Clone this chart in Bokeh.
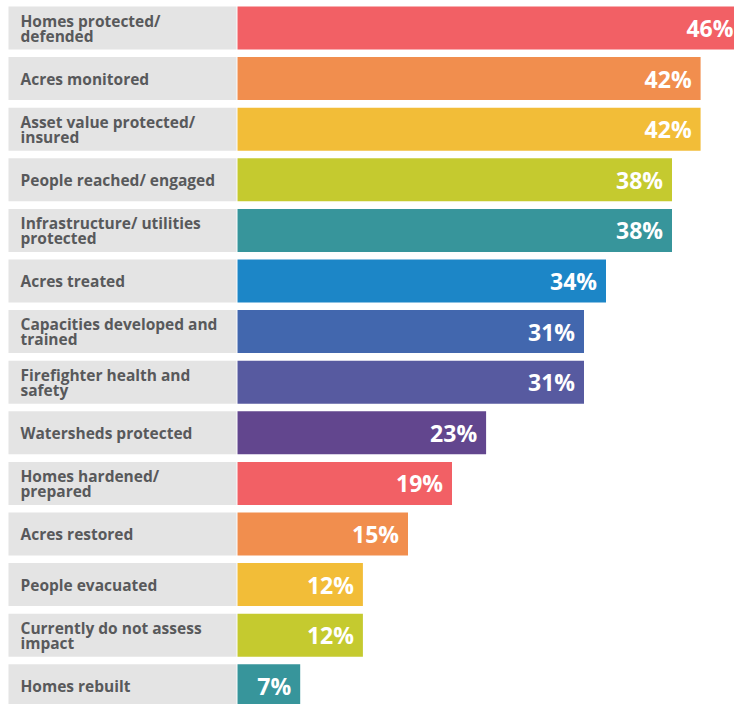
from bokeh.plotting import figure
from bokeh.models import ColumnDataSource, Range1d
from bokeh.core.properties import value
from bokeh.embed import file_html
from bokeh.resources import INLINE

categories = [
    "Homes protected/\ndefended",
    "Acres monitored",
    "Asset value protected/\ninsured",
    "People reached/ engaged",
    "Infrastructure/ utilities\nprotected",
    "Acres treated",
    "Capacities developed and\ntrained",
    "Firefighter health and\nsafety",
    "Watersheds protected",
    "Homes hardened/\nprepared",
    "Acres restored",
    "People evacuated",
    "Currently do not assess\nimpact",
    "Homes rebuilt",
]
# bar lengths (bars are drawn slightly off their printed labels)
bar_values = [45.9, 42.1, 42.1, 39.5, 39.5, 33.5, 31.5, 31.5, 22.6, 19.5, 15.5, 11.4, 11.4, 5.7]
# printed labels
pct_labels = ["46%", "42%", "42%", "38%", "38%", "34%", "31%", "31%", "23%", "19%",
              "15%", "12%", "12%", "7%"]
colors = ["#F26065", "#F18E4E", "#F2BD38", "#C5CA2F", "#37959B", "#1C86C7", "#4267AE",
          "#575AA0", "#62468E", "#F26065", "#F18E4E", "#F2BD38", "#C5CA2F", "#37959B"]

W, H = 734, 704
PX = 11.0          # pixels per percent
ORIGIN = 237       # pixel x of 0%
ROW0 = 27.5        # pixel y of first row center
PITCH = 50.6       # row pitch

x0 = -ORIGIN / PX
x1 = (W - ORIGIN) / PX
y_top = -ROW0 / PITCH
y_bot = (H - ROW0) / PITCH

ys = list(range(len(bar_values)))
src = ColumnDataSource(dict(y=ys, v=bar_values, c=colors, lab=pct_labels,
                            gl=[(8 - ORIGIN) / PX] * len(ys), gr=[-1 / PX] * len(ys)))

p = figure(width=W, height=H, output_backend="svg", toolbar_location=None,
           x_range=Range1d(x0, x1), y_range=Range1d(y_bot, y_top),
           min_border=0, outline_line_color=None, background_fill_color="white",
           border_fill_color="white")
p.axis.visible = False
p.grid.visible = False

bh = 43 / PITCH
p.hbar(y="y", left="gl", right="gr", height=bh, source=src, fill_color="#E4E4E4", line_color=None)
p.hbar(y="y", left=0, right="v", height=bh, source=src, fill_color="c", line_color=None)

# category labels: one or two lines, drawn line by line
l1_y, l1_t, l1_off = [], [], []
l2_y, l2_t = [], []
for y, cat in zip(ys, categories):
    parts = cat.split("\n")
    l1_y.append(y)
    l1_t.append(parts[0])
    if len(parts) > 1:
        l1_off.append(-7.5)
        l2_y.append(y)
        l2_t.append(parts[1])
    else:
        l1_off.append(0)

lab_style = dict(x_offset=20, text_align="left", text_baseline="middle",
                 text_font=value("Open Sans"), text_font_style="bold",
                 text_font_size="15.5px", text_color="#58595B")
s1 = ColumnDataSource(dict(x=[x0] * len(l1_y), y=l1_y, t=l1_t, off=l1_off))
p.text(x="x", y="y", text="t", y_offset="off", source=s1, **lab_style)
s2 = ColumnDataSource(dict(x=[x0] * len(l2_y), y=l2_y, t=l2_t))
p.text(x="x", y="y", text="t", y_offset=7.5, source=s2, **lab_style)

p.text(x="v", y="y", text="lab", source=src, x_offset=-9, y_offset=0, text_align="right",
       text_baseline="middle", text_font=value("Open Sans"), text_font_style="bold",
       text_font_size="23px", text_color="white")

open("out.html", "w").write(file_html(p, INLINE))
